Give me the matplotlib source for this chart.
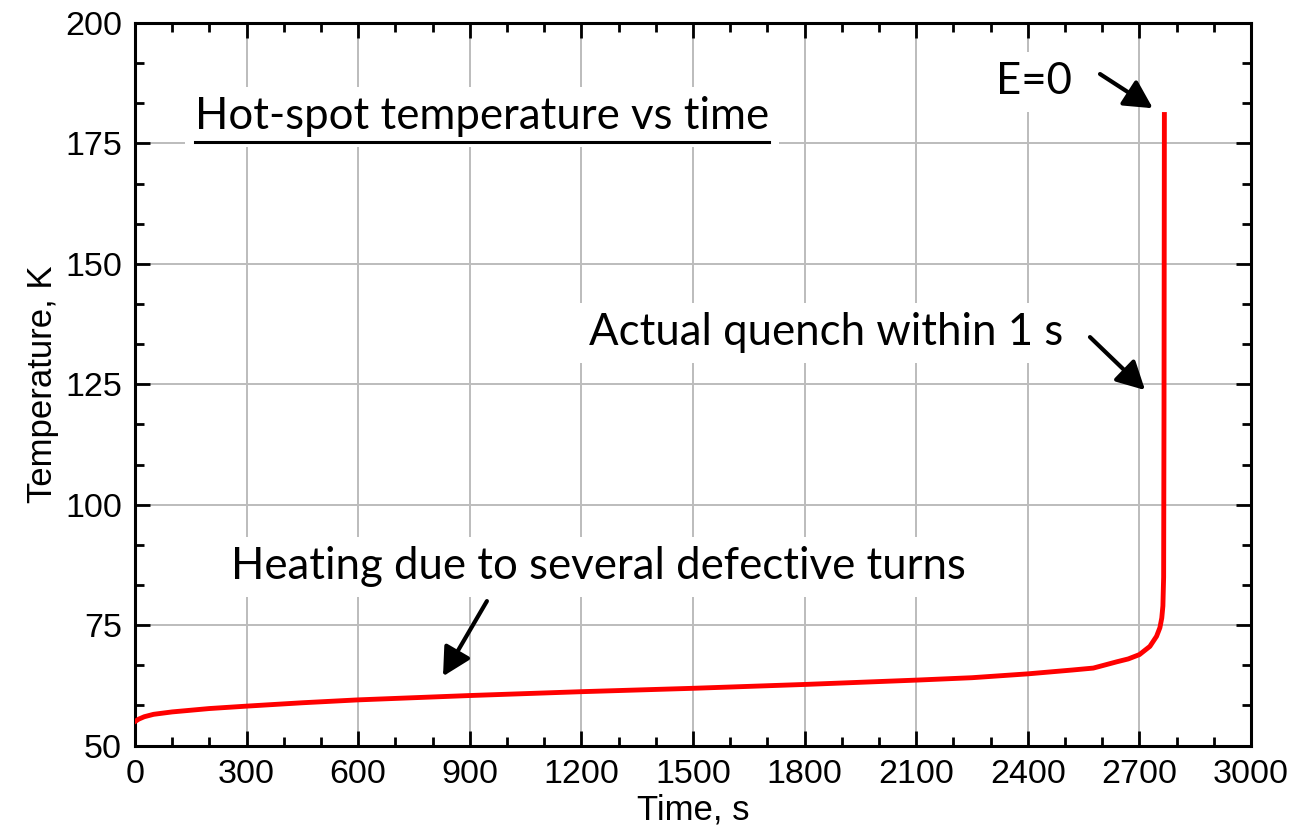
import matplotlib
matplotlib.use("Agg")
import matplotlib.pyplot as plt
from matplotlib.lines import Line2D
from matplotlib.ticker import MultipleLocator

# --- Data ---
time_s = [0, 10, 25, 50, 100, 200, 300, 450, 600, 900, 1200, 1500, 1800,
          2100, 2250, 2400, 2460, 2520, 2576, 2610, 2639, 2670, 2700, 2728,
          2746, 2755, 2760, 2763, 2765, 2766, 2767]
temp_k = [55.0, 55.5, 56.0, 56.5, 57.0, 57.7, 58.2, 58.9, 59.5, 60.4, 61.2,
          61.9, 62.7, 63.6, 64.1, 64.9, 65.3, 65.7, 66.1, 66.8, 67.4, 68.0,
          68.9, 70.6, 72.7, 74.5, 76.5, 79.0, 85.0, 120.0, 181.0]

x_ticks = [0, 300, 600, 900, 1200, 1500, 1800, 2100, 2400, 2700, 3000]
y_ticks = [50, 75, 100, 125, 150, 175, 200]

TITLE = "Hot-spot temperature vs time"
# text, text anchor (x, y), horizontal alignment
NOTE_TEXT = [
    ("Heating due to several defective turns", (1247, 87.1), "center"),
    ("Actual quench within 1 s", (2495, 135.7), "right"),
    ("E=0", (2519, 187.8), "right"),
]
# arrow start, arrow tip
NOTE_ARROWS = [
    ((946, 80.0), (828, 64.4)),
    ((2567, 134.8), (2715, 123.8)),
    ((2594, 189.4), (2736, 182.3)),
]

TICK_FONT = "Liberation Sans"
NOTE_FONT = "Lato"
NOTE_SIZE = 31.5

fig = plt.figure(figsize=(12.99, 8.32), dpi=100)
ax = fig.add_axes([0.1039, 0.1038, 0.8592, 0.8686])

ax.plot(time_s, temp_k, color="#ff0000", linewidth=3.5, zorder=4)

ax.set_xlim(0, 3000)
ax.set_ylim(50, 200)
ax.set_xticks(x_ticks)
ax.set_yticks(y_ticks)
ax.xaxis.set_minor_locator(MultipleLocator(100))
ax.yaxis.set_minor_locator(MultipleLocator(25 / 3))
ax.grid(True, which="major", color="#bcbcbc", linewidth=1.4)

ax.tick_params(which="both", direction="in", top=True, right=True,
               width=2.0, colors="black")
ax.tick_params(which="major", length=10.5, pad=9.5, labelsize=24.5)
ax.tick_params(which="minor", length=6.5)
for lab in ax.get_xticklabels() + ax.get_yticklabels():
    lab.set_fontfamily(TICK_FONT)
for sp in ax.spines.values():
    sp.set_linewidth(2.2)

ax.set_xlabel("Time, s", fontsize=25, family=TICK_FONT, labelpad=3)
ax.set_ylabel("Temperature, K", fontsize=25, family=TICK_FONT, labelpad=4)

box = dict(facecolor="white", edgecolor="none", pad=7)

title = ax.text(161, 180.5, TITLE, fontsize=NOTE_SIZE, family=NOTE_FONT,
                ha="left", va="center", bbox=box, zorder=5)

for txt, xy, ha in NOTE_TEXT:
    ax.text(*xy, txt, fontsize=NOTE_SIZE, family=NOTE_FONT, ha=ha,
            va="center", bbox=box, zorder=5)

for start, tip in NOTE_ARROWS:
    ax.annotate("", xy=tip, xytext=start, zorder=6,
                arrowprops=dict(arrowstyle="-|>,head_length=0.85,head_width=0.45",
                                mutation_scale=20, color="black", linewidth=3,
                                shrinkA=0, shrinkB=0))

# underline the title
fig.canvas.draw()
bb = title.get_window_extent().transformed(ax.transAxes.inverted())
y_line = bb.y0 - 0.006
ax.add_line(Line2D([bb.x0, bb.x1], [y_line, y_line], transform=ax.transAxes,
                   color="black", linewidth=2.2, zorder=6))

fig.savefig("out.png", dpi=100)
